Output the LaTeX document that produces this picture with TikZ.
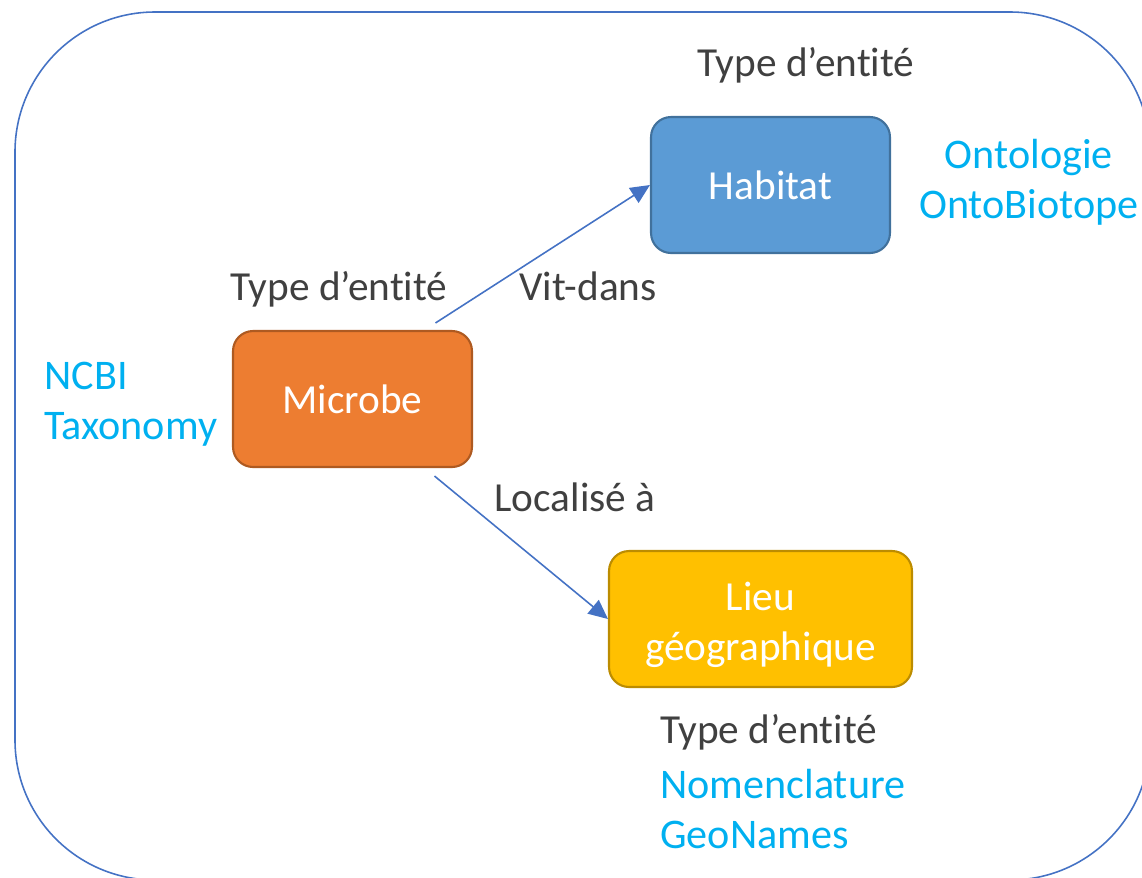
\documentclass[tikz,border=0pt]{standalone}
\usepackage{fontspec}
\setmainfont{Carlito}[Ligatures=NoCommon]
\usetikzlibrary{arrows.meta}

\definecolor{framecol}{HTML}{4472C4}
\definecolor{bluefill}{HTML}{5B9BD5}
\definecolor{blueline}{HTML}{41719C}
\definecolor{orangefill}{HTML}{ED7D31}
\definecolor{orangeline}{HTML}{AE5A21}
\definecolor{goldfill}{HTML}{FFC000}
\definecolor{goldline}{HTML}{BC8C00}
\definecolor{refcol}{HTML}{00B0F0}
\definecolor{labcol}{HTML}{404040}

\tikzset{
  entity/.style={draw, line width=1.2pt, rounded corners=0.4cm, minimum width=4.78cm, minimum height=2.72cm,
    text=white, align=center, inner sep=0pt},
  typelab/.style={text=labcol, inner sep=0pt, anchor=base},
  reflab/.style={text=refcol, inner sep=0pt, font=\fontsize{24}{28.5}\selectfont},
  rel/.style={framecol, line width=0.9pt, -{Triangle[length=11pt,width=10pt]}}
}

\begin{document}
\begin{tikzpicture}[x=0.02cm, y=-0.02cm, every node/.style={font=\fontsize{23.5}{28.5}\selectfont}]
\useasboundingbox (0,0) rectangle (1142,877);
\clip (0,0) rectangle (1142,877);
% outer frame
\draw[framecol, line width=0.9pt, rounded corners=2.8cm] (15,12) rectangle (1150,880);
% entity boxes
\node[entity, fill=bluefill, draw=blueline] (habitat) at (770.5,185) {Habitat};
\node[entity, fill=orangefill, draw=orangeline] (microbe) at (352.5,399) {Microbe};
\node[entity, fill=goldfill, draw=goldline, minimum width=6.06cm] (lieu) at (760.5,619)
  {\raisebox{-3.5pt}[\height][\depth]{\begin{tabular}{@{}c@{}}Lieu\\géographique\end{tabular}}};
% type labels
\node[typelab] (typehab) at (806,76) {Type d’entité};
\node[typelab] (typemic) at (339,300) {Type d’entité};
\node[typelab, anchor=base west] (typelieu) at (660,743) {Type d’entité};
% references
\node[reflab, align=center] (ontobio) at (1029,182) {Ontologie\\OntoBiotope};
\node[reflab, align=left, anchor=west] (ncbi) at (44,404) {NCBI\\Taxonomy};
\node[reflab, align=left, anchor=north west] (geonames) at (660,769) {Nomenclature\\GeoNames};
% relations
\coordinate (vitstart) at ([shift={(83,-7)}]microbe.north);
\coordinate (locstart) at ([shift={(82,8)}]microbe.south);
\draw[rel] (vitstart) -- (habitat.west);
\draw[rel] (locstart) -- (lieu.west);
\node[typelab] (vitdans) at (588,300) {Vit-dans};
\node[typelab] (localise) at (575,511) {Localisé à};
\end{tikzpicture}
\end{document}
